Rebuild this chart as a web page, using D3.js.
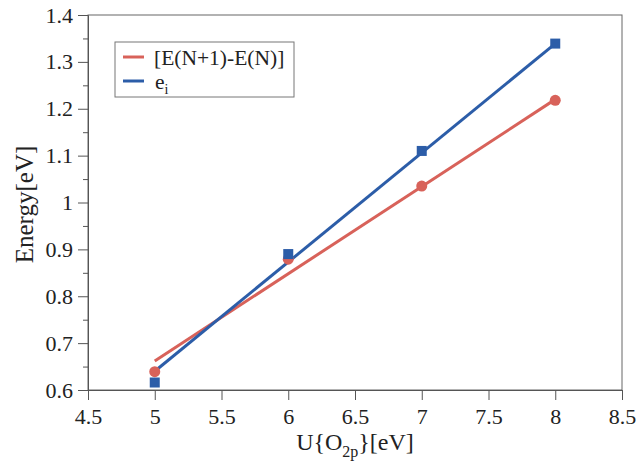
<!DOCTYPE html>
<html>
<head>
<meta charset="utf-8">
<script src="https://cdn.jsdelivr.net/npm/d3@7"></script>
<style>
  html, body { margin: 0; padding: 0; background: #fff; }
  svg { display: block; }
  svg text { font-family: "Liberation Serif", "Times New Roman", Times, serif; fill: #222; }
</style>
</head>
<body>
<svg id="chart" width="638" height="461"></svg>
<script>
// Hubbard U on O 2p vs. energy
const uValues = [5, 6, 7, 8];
const deltaE = [0.639, 0.879, 1.035, 1.218];   // [E(N+1)-E(N)]
const eigen = [0.616, 0.890, 1.110, 1.339];    // e_i
// straight trend lines, given at U = 5 and U = 8
const fitU = [5, 8];
const deltaEFit = [0.662, 1.220];
const eigenFit = [0.640, 1.339];

const xTicks = [4.5, 5, 5.5, 6, 6.5, 7, 7.5, 8, 8.5];
const yTicks = [0.6, 0.7, 0.8, 0.9, 1, 1.1, 1.2, 1.3, 1.4];
const yMinorTicks = [0.65, 0.75, 0.85, 0.95, 1.05, 1.15, 1.25, 1.35];

const red = "#d8625a";
const blue = "#2c5da8";
const serif = "'Liberation Serif', 'Times New Roman', Times, serif";

const margin = { left: 88, right: 16, top: 15, bottom: 71 };
const W = 638, H = 461;
const svg = d3.select("#chart");

const x = d3.scaleLinear().domain([4.5, 8.5]).range([margin.left, W - margin.right]);
const y = d3.scaleLinear().domain([0.6, 1.4]).range([H - margin.bottom, margin.top]);

// frame
svg.append("rect")
  .attr("x", x(4.5)).attr("y", y(1.4))
  .attr("width", x(8.5) - x(4.5)).attr("height", y(0.6) - y(1.4))
  .attr("fill", "none").attr("stroke", "#666").attr("stroke-width", 1);

// axes
const fmt = d3.format(".1~f");
svg.append("g")
  .attr("transform", `translate(0,${y(0.6)})`)
  .call(d3.axisBottom(x).tickValues(xTicks).tickFormat(fmt).tickSize(10).tickPadding(8));
svg.append("g")
  .attr("transform", `translate(${x(4.5)},0)`)
  .call(d3.axisLeft(y).tickValues(yTicks).tickFormat(fmt).tickSize(10).tickPadding(5));
svg.append("g")
  .attr("transform", `translate(${x(4.5)},0)`)
  .call(d3.axisLeft(y).tickValues(yMinorTicks).tickFormat("").tickSize(5))
  .select(".domain").remove();

svg.selectAll("g").attr("font-family", serif);
svg.selectAll(".domain").attr("stroke", "#555");
svg.selectAll(".tick line").attr("stroke", "#555");
svg.selectAll(".tick text")
  .style("font-family", serif)
  .attr("font-size", 22).attr("fill", "#222");

// axis titles
const xt = svg.append("text")
  .attr("x", (x(4.5) + x(8.5)) / 2).attr("y", 450)
  .attr("text-anchor", "middle").attr("font-size", 24);
xt.append("tspan").text("U{O");
xt.append("tspan").attr("font-size", 16).attr("dy", 7).text("2p");
xt.append("tspan").attr("dy", -7).text("}[eV]");

svg.append("text")
  .attr("transform", `translate(33,${(y(0.6) + y(1.4)) / 2 + 2}) rotate(-90)`)
  .attr("text-anchor", "middle").attr("font-size", 25)
  .text("Energy[eV]");

// trend lines
const line = d3.line().x(d => x(d[0])).y(d => y(d[1]));
const series = [
  { color: red, fit: deltaEFit },
  { color: blue, fit: eigenFit }
];

series.forEach(s => {
  svg.append("path")
    .datum(fitU.map((u, i) => [u, s.fit[i]]))
    .attr("d", line)
    .attr("fill", "none").attr("stroke", s.color).attr("stroke-width", 3);
});

// markers
svg.selectAll("circle.delta")
  .data(uValues.map((u, i) => [u, deltaE[i]]))
  .join("circle")
  .attr("class", "delta")
  .attr("cx", d => x(d[0])).attr("cy", d => y(d[1])).attr("r", 5.5)
  .attr("fill", red);

svg.selectAll("rect.eig")
  .data(uValues.map((u, i) => [u, eigen[i]]))
  .join("rect")
  .attr("class", "eig")
  .attr("x", d => x(d[0]) - 5).attr("y", d => y(d[1]) - 5)
  .attr("width", 10).attr("height", 10)
  .attr("fill", blue);

// legend
const lg = svg.append("g").attr("transform", "translate(115,42)");
lg.append("rect").attr("width", 179).attr("height", 55)
  .attr("fill", "#fff").attr("stroke", "#777").attr("stroke-width", 1);
lg.append("line").attr("x1", 8).attr("x2", 29).attr("y1", 15).attr("y2", 15)
  .attr("stroke", red).attr("stroke-width", 3);
lg.append("line").attr("x1", 8).attr("x2", 29).attr("y1", 39).attr("y2", 39)
  .attr("stroke", blue).attr("stroke-width", 3);
lg.append("text").attr("x", 39).attr("y", 22.5).attr("font-size", 21.5).text("[E(N+1)-E(N)]");
const ei = lg.append("text").attr("x", 40).attr("y", 46.5).attr("font-size", 21.5);
ei.append("tspan").text("e");
ei.append("tspan").attr("font-size", 14).attr("dy", 5).text("i");
</script>
</body>
</html>
